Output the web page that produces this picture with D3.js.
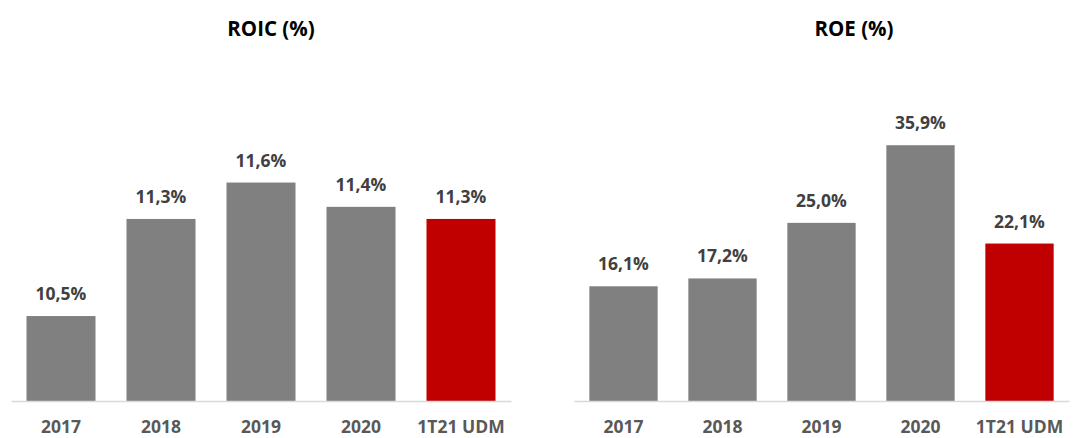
<!DOCTYPE html>
<html>
<head>
<meta charset="utf-8">
<script src="https://cdn.jsdelivr.net/npm/d3@7"></script>
<style>
  body { margin: 0; background: #fff; }
  text { font-family: "Open Sans", Lato, sans-serif; font-weight: bold; }
</style>
</head>
<body>
<div id="container"></div>
<script>
const categories = ["2017", "2018", "2019", "2020", "1T21 UDM"];
const roicValues = [10.5, 11.3, 11.6, 11.4, 11.3];
const roeValues = [16.1, 17.2, 25.0, 35.9, 22.1];
const barColors = ["#808080", "#808080", "#808080", "#808080", "#C00000"];

const svg = d3
  .select("#container")
  .append("svg")
  .attr("width", 1089)
  .attr("height", 438);

const fmt = (v) => v.toFixed(1).replace(".", ",") + "%";

const drawPanel = (opts) => {
  const g = svg.append("g");

  const xScale = d3
    .scaleBand()
    .domain(categories)
    .range([opts.left, opts.right])
    .paddingInner(0.31)
    .paddingOuter(0.155);

  const yScale = d3
    .scaleLinear()
    .domain(opts.domain)
    .range([401, opts.top]);

  g.append("text")
    .attr("x", opts.titleX)
    .attr("y", 36)
    .attr("text-anchor", "middle")
    .attr("font-size", 20.5)
    .attr("fill", "#000")
    .text(opts.title);

  g.selectAll("rect")
    .data(opts.values)
    .enter()
    .append("rect")
    .attr("x", (d, i) => xScale(categories[i]))
    .attr("width", xScale.bandwidth())
    .attr("y", (d) => yScale(d))
    .attr("height", (d) => yScale(opts.domain[0]) - yScale(d))
    .attr("fill", (d, i) => barColors[i]);

  g.selectAll(".val")
    .data(opts.values)
    .enter()
    .append("text")
    .attr("class", "val")
    .attr("x", (d, i) => xScale(categories[i]) + xScale.bandwidth() / 2)
    .attr("y", (d) => yScale(d) - 16)
    .attr("text-anchor", "middle")
    .attr("font-size", 17.5)
    .attr("fill", "#404040")
    .text(fmt);

  // x axis
  const axis = g
    .append("g")
    .attr("transform", "translate(0,401)")
    .call(d3.axisBottom(xScale).tickSize(0).tickPadding(26));
  axis.select(".domain").attr("stroke", "#d9d9d9").attr("stroke-width", 1.3);
  axis
    .selectAll("text")
    .attr("font-size", 17.5)
    .attr("fill", "#595959")
    .attr("dy", "0.35em")
    .style("font-family", '"Open Sans", Lato, sans-serif')
    .style("font-weight", "bold");
};

drawPanel({
  title: "ROIC (%)",
  titleX: 271,
  values: roicValues,
  domain: [9.8, 12.0],
  top: 134,
  left: 11,
  right: 511,
});

drawPanel({
  title: "ROE (%)",
  titleX: 854,
  values: roeValues,
  domain: [0, 40],
  top: 116,
  left: 574,
  right: 1069,
});
</script>
</body>
</html>
